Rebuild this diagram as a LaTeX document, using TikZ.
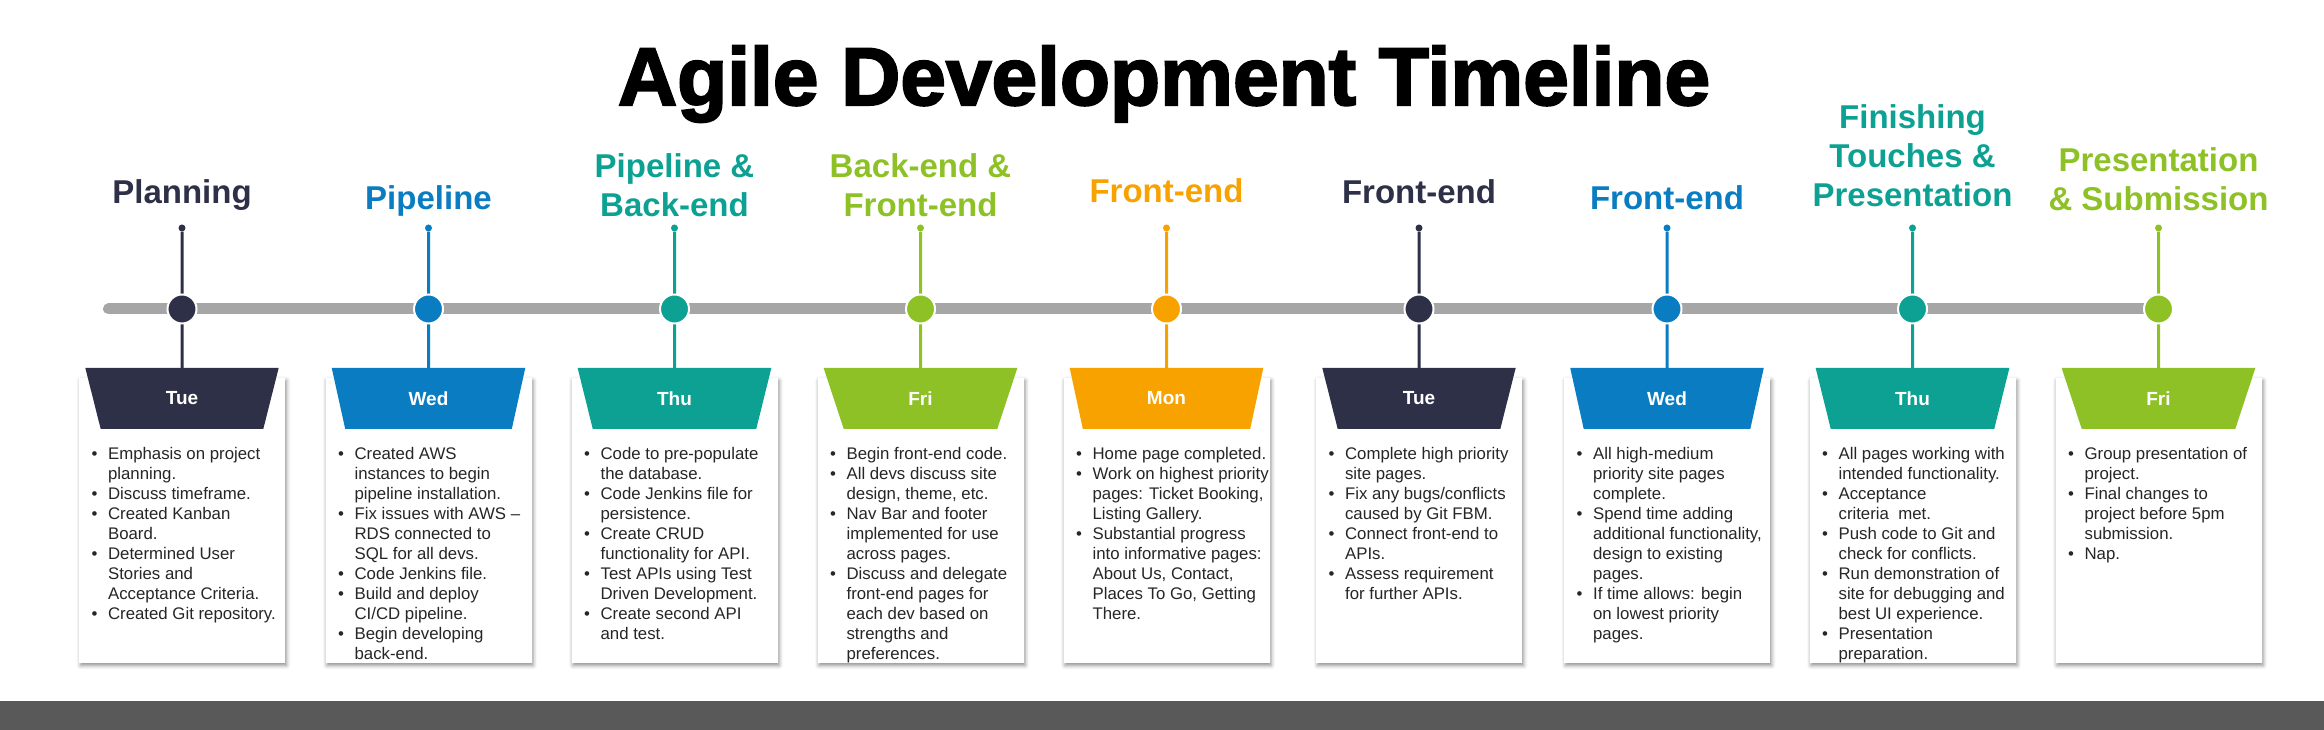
\documentclass[tikz,border=0pt]{standalone}
\usepackage{fontspec}
\setmainfont{Liberation Sans}
\newfontfamily\titlefont[FakeBold=2.5]{Liberation Sans Bold}
\usetikzlibrary{positioning,shapes.geometric,shadows.blur}
\definecolor{tlNavy}{HTML}{2D3047}
\definecolor{tlBlue}{HTML}{0A7CC1}
\definecolor{tlTeal}{HTML}{0CA192}
\definecolor{tlGreen}{HTML}{8DC126}
\definecolor{tlOrange}{HTML}{F8A200}
\definecolor{tlGray}{HTML}{A6A6A6}
\definecolor{tlBand}{HTML}{595959}
\definecolor{tlText}{HTML}{262626}

\begin{document}
\begin{tikzpicture}[x=1pt,y=1pt,
  bar/.style={tlGray,line width=11pt,line cap=round},
  stem/.style={line width=3pt},
  pin/.style={circle,inner sep=0pt,minimum size=7pt},
  knot/.style={circle,inner sep=0pt,minimum size=29pt,draw=white,line width=2pt},
  phase/.style={anchor=south,inner sep=0pt,align=center,
    font=\fontsize{33}{39}\selectfont\bfseries},
  daybox/.style={trapezium,shape border rotate=180,trapezium stretches=true,
    trapezium angle=77,minimum width=194pt,minimum height=61pt,inner sep=0pt,
    text=white,font=\fontsize{19}{22}\selectfont\bfseries},
  card/.style={fill=white,minimum width=206pt,minimum height=285pt,inner sep=0pt,
    blur shadow={shadow xshift=1.5pt,shadow yshift=-2.5pt,
      shadow blur radius=4pt,shadow opacity=45}},
  notes/.style={inner sep=0pt,text=tlText,font=\fontsize{16.8}{20}\selectfont}]
  \useasboundingbox (0,0) rectangle (2324,730);

  \node[font=\titlefont\fontsize{82}{92}\selectfont,anchor=base] (title)
    at (1164,625) {Agile Development Timeline};

  % one column per working day: card, day header, pin, stem and phase label
  \foreach \i/\x/\col/\phs/\ly/\dy in {
    1/182/tlNavy/{Planning}/519/Tue,
    2/428.5/tlBlue/{Pipeline}/513/Wed,
    3/674.5/tlTeal/{Pipeline \&\\Back-end}/513/Thu,
    4/920.5/tlGreen/{Back-end \&\\Front-end}/513/Fri,
    5/1166.5/tlOrange/{Front-end}/527/Mon,
    6/1419/tlNavy/{Front-end}/526/Tue,
    7/1667/tlBlue/{Front-end}/520/Wed,
    8/1912.5/tlTeal/{Finishing\\Touches \&\\Presentation}/523/Thu,
    9/2158.5/tlGreen/{Presentation\\\& Submission}/519/Fri}
  {
    \node[card] (card\i) at (\x,209.5) {};
    \node[daybox,fill=\col] (day\i) at (\x,331.5) {\dy};
    \node[pin,fill=\col] (pin\i) at (\x,502) {};
    \draw[stem,\col] (pin\i) -- (day\i.north);
    \node[phase,text=\col] (phase\i) at (\x,\ly) {\phs};
  }

  \coordinate (barL) at (108.5,421);
  \coordinate (barR) at (2158.5,421);
  \draw[bar] (barL) -- (barR);

  \foreach \i/\x/\col in {1/182/tlNavy,2/428.5/tlBlue,3/674.5/tlTeal,
    4/920.5/tlGreen,5/1166.5/tlOrange,6/1419/tlNavy,7/1667/tlBlue,
    8/1912.5/tlTeal,9/2158.5/tlGreen}
    \node[knot,fill=\col] (knot\i) at (\x,421) {};

  \node[notes,below right=67.3pt and 12.7pt of card1.north west] (notes1) {%
    \begin{tabular}{@{}l@{\hspace{10.5pt}}l@{}}
      \textbullet & Emphasis on project\\ & planning.\\
      \textbullet & Discuss timeframe.\\
      \textbullet & Created Kanban\\ & Board.\\
      \textbullet & Determined User\\ & Stories and\\ & Acceptance Criteria.\\
      \textbullet & Created Git repository.
    \end{tabular}};
  \node[notes,below right=67.3pt and 12.7pt of card2.north west] (notes2) {%
    \begin{tabular}{@{}l@{\hspace{10.5pt}}l@{}}
      \textbullet & Created AWS\\ & instances to begin\\ & pipeline installation.\\
      \textbullet & Fix issues with AWS --\\ & RDS connected to\\ & SQL for all devs.\\
      \textbullet & Code Jenkins file.\\
      \textbullet & Build and deploy\\ & CI/CD pipeline.\\
      \textbullet & Begin developing\\ & back-end.
    \end{tabular}};
  \node[notes,below right=67.3pt and 12.7pt of card3.north west] (notes3) {%
    \begin{tabular}{@{}l@{\hspace{10.5pt}}l@{}}
      \textbullet & Code to pre-populate\\ & the database.\\
      \textbullet & Code Jenkins file for\\ & persistence.\\
      \textbullet & Create CRUD\\ & functionality for API.\\
      \textbullet & Test APIs using Test\\ & Driven Development.\\
      \textbullet & Create second API\\ & and test.
    \end{tabular}};
  \node[notes,below right=67.3pt and 12.7pt of card4.north west] (notes4) {%
    \begin{tabular}{@{}l@{\hspace{10.5pt}}l@{}}
      \textbullet & Begin front-end code.\\
      \textbullet & All devs discuss site\\ & design, theme, etc.\\
      \textbullet & Nav Bar and footer\\ & implemented for use\\ & across pages.\\
      \textbullet & Discuss and delegate\\ & front-end pages for\\ & each dev based on\\
        & strengths and\\ & preferences.
    \end{tabular}};
  \node[notes,below right=67.3pt and 12.7pt of card5.north west] (notes5) {%
    \begin{tabular}{@{}l@{\hspace{10.5pt}}l@{}}
      \textbullet & Home page completed.\\
      \textbullet & Work on highest priority\\ & pages: Ticket Booking,\\
        & Listing Gallery.\\
      \textbullet & Substantial progress\\ & into informative pages:\\
        & About Us, Contact,\\ & Places To Go, Getting\\ & There.
    \end{tabular}};
  \node[notes,below right=67.3pt and 12.7pt of card6.north west] (notes6) {%
    \begin{tabular}{@{}l@{\hspace{10.5pt}}l@{}}
      \textbullet & Complete high priority\\ & site pages.\\
      \textbullet & Fix any bugs/conflicts\\ & caused by Git FBM.\\
      \textbullet & Connect front-end to\\ & APIs.\\
      \textbullet & Assess requirement\\ & for further APIs.
    \end{tabular}};
  \node[notes,below right=67.3pt and 12.7pt of card7.north west] (notes7) {%
    \begin{tabular}{@{}l@{\hspace{10.5pt}}l@{}}
      \textbullet & All high-medium\\ & priority site pages\\ & complete.\\
      \textbullet & Spend time adding\\ & additional functionality,\\
        & design to existing\\ & pages.\\
      \textbullet & If time allows: begin\\ & on lowest priority\\ & pages.
    \end{tabular}};
  \node[notes,below right=67.3pt and 12.7pt of card8.north west] (notes8) {%
    \begin{tabular}{@{}l@{\hspace{10.5pt}}l@{}}
      \textbullet & All pages working with\\ & intended functionality.\\
      \textbullet & Acceptance\\ & criteria\ \ met.\\
      \textbullet & Push code to Git and\\ & check for conflicts.\\
      \textbullet & Run demonstration of\\ & site for debugging and\\
        & best UI experience.\\
      \textbullet & Presentation\\ & preparation.
    \end{tabular}};
  \node[notes,below right=67.3pt and 12.7pt of card9.north west] (notes9) {%
    \begin{tabular}{@{}l@{\hspace{10.5pt}}l@{}}
      \textbullet & Group presentation of\\ & project.\\
      \textbullet & Final changes to\\ & project before 5pm\\ & submission.\\
      \textbullet & Nap.
    \end{tabular}};

  \fill[tlBand] (0,0) rectangle (2324,29.3);
\end{tikzpicture}
\end{document}
